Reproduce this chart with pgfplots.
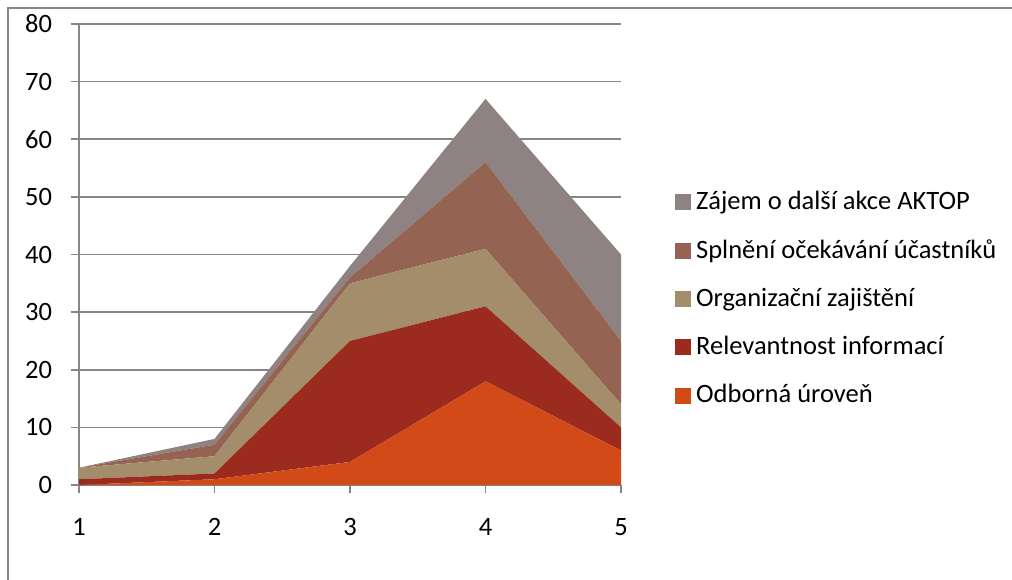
\documentclass[border=0pt]{standalone}
\usepackage{fontspec}
\setmainfont{Carlito}
\usepackage{pgfplots}
\pgfplotsset{compat=1.18}
\definecolor{cA}{HTML}{D24A17}
\definecolor{cB}{HTML}{9C2B1F}
\definecolor{cC}{HTML}{A48D6B}
\definecolor{cD}{HTML}{956352}
\definecolor{cE}{HTML}{8E8282}
\definecolor{gridc}{HTML}{868686}
\begin{document}
\fontsize{26.5}{31}\selectfont
\begin{tikzpicture}[x=1pt,y=1pt]
\useasboundingbox (0,0) rectangle (1012,579);
\draw[gridc, line width=1.2pt] (8,-20) rectangle (1040,571);
\begin{axis}[
  at={(79pt,94pt)}, anchor=south west,
  scale only axis, width=542pt, height=461pt,
  xmin=1, xmax=5, ymin=0, ymax=80,
  xtick={1,2,3,4,5}, ytick={0,10,...,80},
  stack plots=y,
  separate axis lines,
  axis x line=bottom, axis y line=left,
  axis line style={-, gridc, line width=1.5pt},
  ymajorgrids, grid style={gridc, line width=1.5pt},
  tick align=outside, major tick length=8pt,
  tick style={gridc, line width=1.5pt},
  /pgf/number format/assume math mode=true,
  ticklabel style={font=\fontsize{26.5}{31}\selectfont},
  xticklabel style={yshift=-16pt},
  yticklabel style={xshift=-10pt},
  reverse legend,
  legend cell align=left,
  legend style={draw=none, fill=none, at={(1.094,0.645)}, anchor=north west,
    font=\fontsize{26.5}{31}\selectfont, row sep=24pt, column sep=4pt,
    nodes={inner sep=1pt}},
  legend image code/.code={\fill[#1] (0pt,-8pt) rectangle (16pt,8pt);},
]
\addplot[fill=cA, draw=none] coordinates {(1,0) (2,1) (3,4) (4,18) (5,6)} \closedcycle;
\addlegendentry{Odborná úroveň}
\addplot[fill=cB, draw=none] coordinates {(1,1) (2,1) (3,21) (4,13) (5,4)} \closedcycle;
\addlegendentry{Relevantnost informací}
\addplot[fill=cC, draw=none] coordinates {(1,2) (2,3) (3,10) (4,10) (5,4)} \closedcycle;
\addlegendentry{Organizační zajištění}
\addplot[fill=cD, draw=none] coordinates {(1,0) (2,2) (3,1) (4,15) (5,11)} \closedcycle;
\addlegendentry{Splnění očekávání účastníků}
\addplot[fill=cE, draw=none] coordinates {(1,0) (2,1) (3,2) (4,11) (5,15)} \closedcycle;
\addlegendentry{Zájem o další akce AKTOP}
\end{axis}
\end{tikzpicture}
\end{document}
